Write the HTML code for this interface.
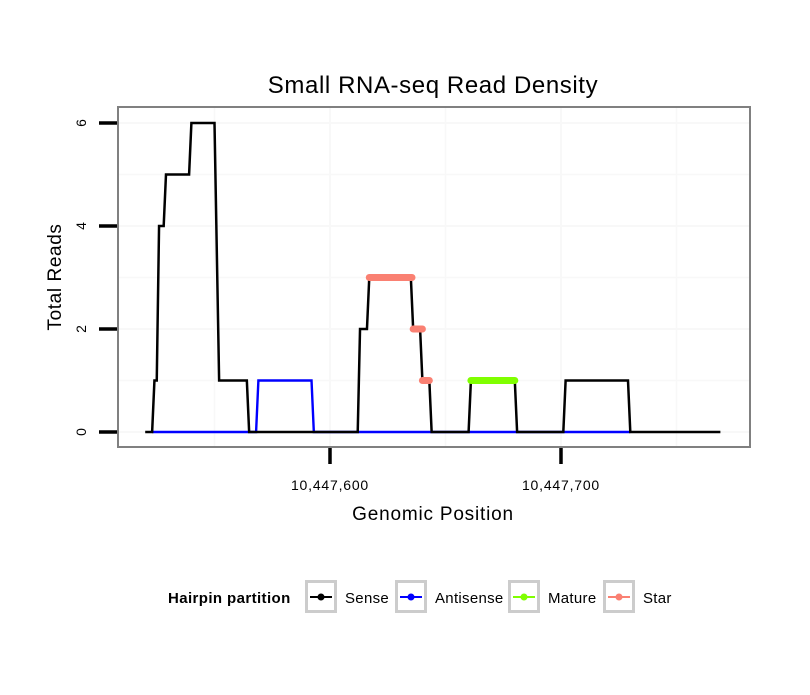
<!DOCTYPE html>
<html><head><meta charset="utf-8">
<style>
body{margin:0;background:#fff;}
svg text{font-family:"Liberation Sans",sans-serif;}
</style></head>
<body>
<svg id="chart" width="810" height="690" viewBox="0 0 810 690" xmlns="http://www.w3.org/2000/svg">
<rect x="0" y="0" width="810" height="690" fill="#fff"/>
<text x="433" y="93" font-size="24" letter-spacing="0.6" text-anchor="middle" fill="#000">Small RNA-seq Read Density</text>
<g id="grid"></g>
<g id="series"></g>
<rect x="118" y="107" width="632" height="340" fill="none" stroke="#808080" stroke-width="2"/>
<g id="axes"></g>
<text x="433" y="520" font-size="19" letter-spacing="0.8" text-anchor="middle">Genomic Position</text>
<text transform="translate(61,277) rotate(-90)" font-size="19" letter-spacing="0.6" text-anchor="middle">Total Reads</text>
<g>
<text x="168" y="603" font-size="15" letter-spacing="0.4" font-weight="bold">Hairpin partition</text>
<g id="legendItems"></g>
</g>
</svg>
<script>
const ns="http://www.w3.org/2000/svg";
const BASE=10447600;
const senseX=[520,523,524,525,526,528,529,539,540,550,552,564,565,612,613,616,617,635,636,639,640,643,644,660,661,680,681,701,702,729,730,769];
const senseY=[0,0,1,1,4,4,5,5,6,6,1,1,0,0,2,2,3,3,2,2,1,1,0,0,1,1,0,0,1,1,0,0];
const antiX=[523,568,569,592,593,730];
const antiY=[0,0,1,1,0,0];
const matureStart=[661];
const matureEnd=[680];
const matureVal=[1];
const starStart=[617,636,640];
const starEnd=[635.5,640,643];
const starVal=[3,2,1];
const xTicks=[10447600,10447700];
const xTickLabels=["10,447,600","10,447,700"];
const yTicks=[0,2,4,6];
const legendNames=["Sense","Antisense","Mature","Star"];
const legendColors=["#000000","#0000ff","#80ff00","#fa8072"];

function X(p){const v=p>100000?p-BASE:p-600;return 330+v*2.31;}
function Y(v){return 432-v*51.5;}
function mk(tag,attrs,parent){const e=document.createElementNS(ns,tag);for(const k in attrs)e.setAttribute(k,attrs[k]);parent.appendChild(e);return e;}

const grid=document.getElementById('grid');
for(let p=550;p<=750;p+=50){const l=mk('line',{x1:X(p),x2:X(p),y1:108,y2:446,stroke:'#f8f8f8','stroke-width':p%100===0?2:1.5},grid);

}
for(let v=0;v<=6.5;v+=1){const l=mk('line',{x1:119,x2:749,y1:Y(v),y2:Y(v),stroke:'#f8f8f8','stroke-width':v%2===0?2:1.5},grid);

}

const series=document.getElementById('series');
function poly(xs,ys,color,w,name){const pts=xs.map((x,i)=>X(x)+','+Y(ys[i])).join(' ');
const e=mk('polyline',{points:pts,fill:'none',stroke:color,'stroke-width':w,'stroke-linejoin':'miter'},series);

}
poly(antiX,antiY,'#0000ff',2.4,'antisense-line');
poly(senseX,senseY,'#000',2.5,'sense-line');
matureStart.forEach((s,i)=>{const e=mk('line',{x1:X(s),x2:X(matureEnd[i]),y1:Y(matureVal[i]),y2:Y(matureVal[i]),stroke:'#80ff00','stroke-width':7,'stroke-linecap':'round'},series);

});
starStart.forEach((s,i)=>{const e=mk('line',{x1:X(s),x2:X(starEnd[i]),y1:Y(starVal[i]),y2:Y(starVal[i]),stroke:'#fa8072','stroke-width':7,'stroke-linecap':'round'},series);

});

const axes=document.getElementById('axes');
xTicks.forEach((t,i)=>{const l=mk('line',{x1:X(t),x2:X(t),y1:448,y2:464,stroke:'#000','stroke-width':3.5},axes);


const tx=mk('text',{x:X(t),y:490,'font-size':14,'letter-spacing':0.8,'text-anchor':'middle'},axes);tx.textContent=xTickLabels[i];

});
yTicks.forEach(v=>{const l=mk('line',{x1:99,x2:117,y1:Y(v),y2:Y(v),stroke:'#000','stroke-width':3.5},axes);


const tx=mk('text',{transform:`translate(86,${Y(v)}) rotate(-90)`,'font-size':14,'text-anchor':'middle'},axes);tx.textContent=v;

});

const lg=document.getElementById('legendItems');
const boxX=[305,395,508,603];
legendNames.forEach((n,i)=>{const g=mk('g',{},lg);


mk('rect',{x:boxX[i]+1.5,y:581.5,width:29,height:30,fill:'#fff',stroke:'#cccccc','stroke-width':3},g);
mk('line',{x1:boxX[i]+5,x2:boxX[i]+27,y1:597,y2:597,stroke:legendColors[i],'stroke-width':2},g);
mk('circle',{cx:boxX[i]+16,cy:597,r:3.5,fill:legendColors[i]},g);
const t=mk('text',{x:boxX[i]+40,y:603,'font-size':15,'letter-spacing':0.3},g);t.textContent=n;});
</script>
</body></html>
